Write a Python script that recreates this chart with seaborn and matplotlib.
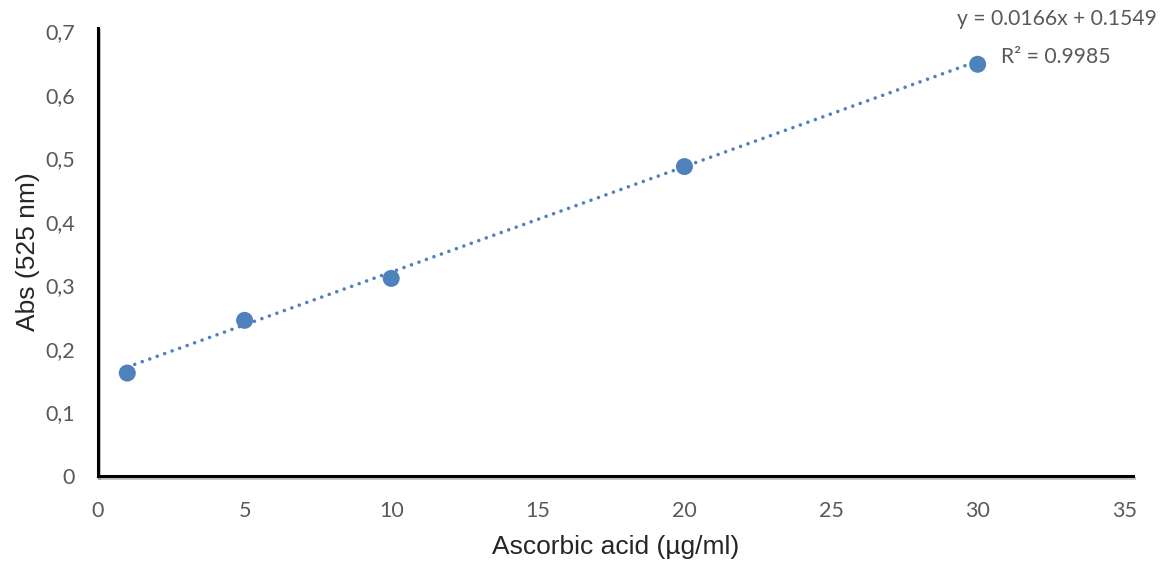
import numpy as np
import pandas as pd
import seaborn as sns
from matplotlib import pyplot as plt
from matplotlib import patheffects as pe
from matplotlib.ticker import FuncFormatter

sns.set_style("white")
plt.rcParams['font.family'] = ['Lato', 'DejaVu Sans']

# calibration data
conc = [1, 5, 10, 20, 30]
absorb = [0.162, 0.245, 0.311, 0.487, 0.648]

# trendline as printed on the chart
slope = 0.0166
intercept = 0.1549
r2 = 0.9985

x_ticks = [0, 5, 10, 15, 20, 25, 30, 35]
y_ticks = [0, 0.1, 0.2, 0.3, 0.4, 0.5, 0.6, 0.7]

df = pd.DataFrame({"conc": conc, "abs": absorb})
blue = "#4f81bd"
grey = "#595959"

fig = plt.figure(figsize=(11.62, 5.61), dpi=100)
ax = fig.add_axes([0.0843, 0.1515, 0.8908, 0.7985])

# dotted linear trendline between first and last standard
xs = np.array([conc[0], conc[-1]])
ax.plot(xs, slope * xs + intercept, linestyle=(0, (0.001, 2.2)), color=blue,
        linewidth=2.6, dash_capstyle="round", zorder=2)

sns.scatterplot(x="conc", y="abs", data=df, ax=ax, color=blue, s=150,
                edgecolor="none", zorder=3)

ax.set_xlim(0, 35.3)
ax.set_ylim(0, 0.705)
ax.set_xticks(x_ticks)
ax.set_yticks(y_ticks)
ax.yaxis.set_major_formatter(FuncFormatter(lambda v, p: "0" if v == 0 else f"{v:.1f}".replace(".", ",")))
ax.tick_params(axis="both", length=0, labelsize=15.5, labelcolor=grey)
ax.tick_params(axis="x", pad=18)
ax.tick_params(axis="y", pad=16.5)

shadow = [pe.SimpleLineShadow(offset=(1, -1.5), shadow_color="grey", alpha=0.45), pe.Normal()]
for side in ["top", "right"]:
    ax.spines[side].set_visible(False)
for side in ["left", "bottom"]:
    ax.spines[side].set_color("black")
    ax.spines[side].set_linewidth(2.2)
    ax.spines[side].set_path_effects(shadow)

ax.set_xlabel("Ascorbic acid (µg/ml)", fontsize=19, family="Liberation Sans", labelpad=10)
ax.set_ylabel("Abs (525 nm)", fontsize=19, family="Liberation Sans", labelpad=3.5)

ax.text(29.3, 0.719, f"y = {slope}x + {intercept}", fontsize=15.2, color=grey,
        ha="left", va="center", clip_on=False)
ax.text(30.8, 0.659, f"R² = {r2}", fontsize=15.2, color=grey,
        ha="left", va="center", clip_on=False)

fig.savefig("out.png", dpi=100)
